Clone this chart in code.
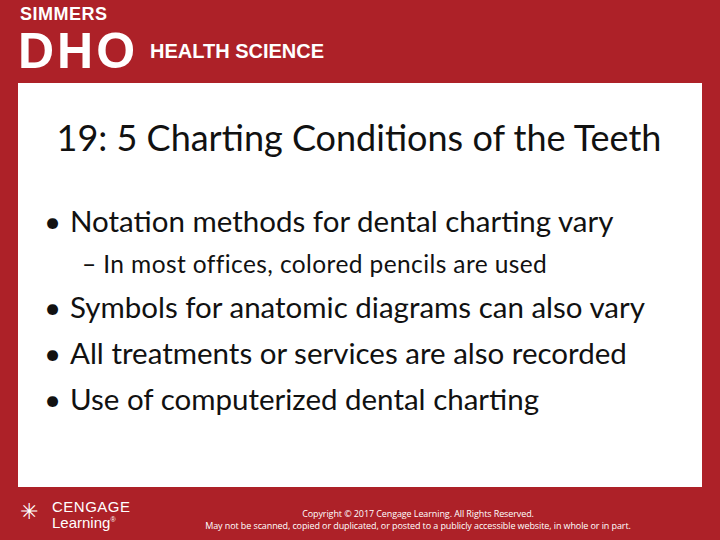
<!DOCTYPE html>
<html><head><meta charset="utf-8">
<script src="https://cdn.jsdelivr.net/npm/chart.js@4"></script>
<style>
html,body{margin:0;padding:0;}
body{width:720px;height:540px;background:#ad2128;position:relative;overflow:hidden;font-family:Lato,"Open Sans",sans-serif;}
.abs{position:absolute;white-space:nowrap;}
#panel{left:18px;top:83px;width:684px;height:404px;background:#fff;}
.b{left:44px;font-size:29.5px;color:#111}
.b span{position:absolute;left:26px;}
</style></head><body>
<div class="abs" style="left:20px;top:4px;color:#fff;font:bold 18px 'Liberation Sans',sans-serif;letter-spacing:0.5px">SIMMERS</div>
<div class="abs" style="left:18px;top:29px;color:#fff;font:bold 50px 'Liberation Sans',sans-serif;letter-spacing:3px;line-height:44px">DHO</div>
<div class="abs" style="left:150px;top:40px;color:#fff;font:bold 20px 'Liberation Sans',sans-serif;">HEALTH SCIENCE</div>
<div id="panel" class="abs"></div>
<div class="abs" style="left:0;width:718px;text-align:center;top:115px;font-size:36px;color:#111">19: 5 Charting Conditions of the Teeth</div>
<div class="abs b" style="top:203px">•<span>Notation methods for dental charting vary</span></div>
<div class="abs" style="left:82px;top:249px;font-size:24.5px;letter-spacing:0.4px;color:#111">– In most offices, colored pencils are used</div>
<div class="abs b" style="top:289px">•<span>Symbols for anatomic diagrams can also vary</span></div>
<div class="abs b" style="top:335px">•<span>All treatments or services are also recorded</span></div>
<div class="abs b" style="top:381px">•<span>Use of computerized dental charting</span></div>
<div class="abs" style="left:20px;top:497px;color:#fff;font-size:22px;">✳</div>
<div class="abs" style="left:52px;top:498px;color:#fff;font:15px 'Liberation Sans',sans-serif;letter-spacing:0.5px;">CENGAGE</div>
<div class="abs" style="left:52px;top:514px;color:#fff;font:15px 'Liberation Sans',sans-serif;">Learning<sup style="font-size:7px">®</sup></div>
<div class="abs" style="left:0;width:836px;text-align:center;top:508px;color:#fff;font:9px 'Open Sans',sans-serif;letter-spacing:-0.1px;line-height:12px">Copyright © 2017 Cengage Learning. All Rights Reserved.<br>May not be scanned, copied or duplicated, or posted to a publicly accessible website, in whole or in part.</div>
</body></html>
